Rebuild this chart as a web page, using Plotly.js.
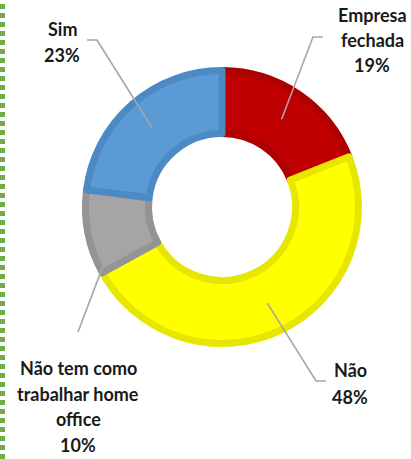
<!DOCTYPE html>
<html>
<head>
<meta charset="utf-8">
<script src="https://cdn.plot.ly/plotly-3.0.1.min.js"></script>
<style>html,body{margin:0;padding:0;background:#fff;}#chart{width:411px;height:459px;}</style>
</head>
<body>
<div id="chart"></div>
<script>
// ---- data ----
const categories = ['Empresa fechada', 'Não', 'Não tem como trabalhar home office', 'Sim'];
const values = [19, 48, 10, 23];
const labelLines = [['Empresa', 'fechada'], ['Não'], ['Não tem como', 'trabalhar home', 'office'], ['Sim']];
const fillColors = ['#C00000', '#FFFF00', '#A5A5A5', '#5B9BD5'];
const borderColors = ['#AD0000', '#E6E600', '#949494', '#4D89C3'];

// ---- layout geometry (pixels) ----
const W = 411, H = 459;
const cx = 222, cy = 207, R = 136.5, BORDER = 7, HOLE_R = 73.5;
const lineR = 106;
// label placement: text centre x, first-line y, line spacing, elbow and end of leader
const labelPos = [
  {x: 372, y: 15, dy: 25, elbow: [313, 37], end: [323, 37]},
  {x: 350, y: 370, dy: 27, elbow: [316, 381], end: [326, 381]},
  {x: 78, y: 368, dy: 25.7, elbow: [78, 332], end: [78, 332]},
  {x: 62, y: 29, dy: 26, elbow: [97, 40], end: [87, 40]}
];

const px = x => x / W;
const py = y => 1 - y / H;

const total = values.reduce((a, b) => a + b, 0);

const trace = {
  type: 'pie',
  labels: categories,
  values: values,
  sort: false,
  direction: 'clockwise',
  rotation: 0,
  hole: HOLE_R / R,
  textinfo: 'none',
  hoverinfo: 'skip',
  showlegend: false,
  marker: {colors: fillColors, line: {color: borderColors, width: BORDER}},
  domain: {x: [px(cx - R), px(cx + R)], y: [py(cy + R), py(cy - R)]}
};

const annotations = [];
const shapes = [];
let cum = 0;
values.forEach((v, i) => {
  const mid = (cum + v / 2) / total * 2 * Math.PI;
  cum += v;
  const sx = cx + lineR * Math.sin(mid);
  const sy = cy - lineR * Math.cos(mid);
  const p = labelPos[i];
  shapes.push({
    type: 'path', xref: 'paper', yref: 'paper',
    path: `M ${px(sx)} ${py(sy)} L ${px(p.elbow[0])} ${py(p.elbow[1])} L ${px(p.end[0])} ${py(p.end[1])}`,
    line: {color: '#A6A6A6', width: 1.6}
  });
  const lines = labelLines[i].concat([Math.round(v / total * 100) + '%']);
  lines.forEach((t, j) => {
    annotations.push({
      xref: 'paper', yref: 'paper', x: px(p.x), y: py(p.y + j * p.dy),
      xanchor: 'center', yanchor: 'middle', showarrow: false, text: t,
      font: {family: 'Lato, "Open Sans", sans-serif', size: 18, color: '#1a1a1a', weight: 'bold'}
    });
  });
});

shapes.push({
  type: 'line', xref: 'paper', yref: 'paper', x0: px(2.5), x1: px(2.5), y0: 0, y1: 1,
  line: {color: '#70AD47', width: 5, dash: '5px,4px'}
});

const layout = {
  width: W, height: H,
  margin: {l: 0, r: 0, t: 0, b: 0},
  paper_bgcolor: '#ffffff',
  showlegend: false,
  annotations: annotations,
  shapes: shapes
};

Plotly.newPlot('chart', [trace], layout, {staticPlot: true, displayModeBar: false});
</script>
</body>
</html>
